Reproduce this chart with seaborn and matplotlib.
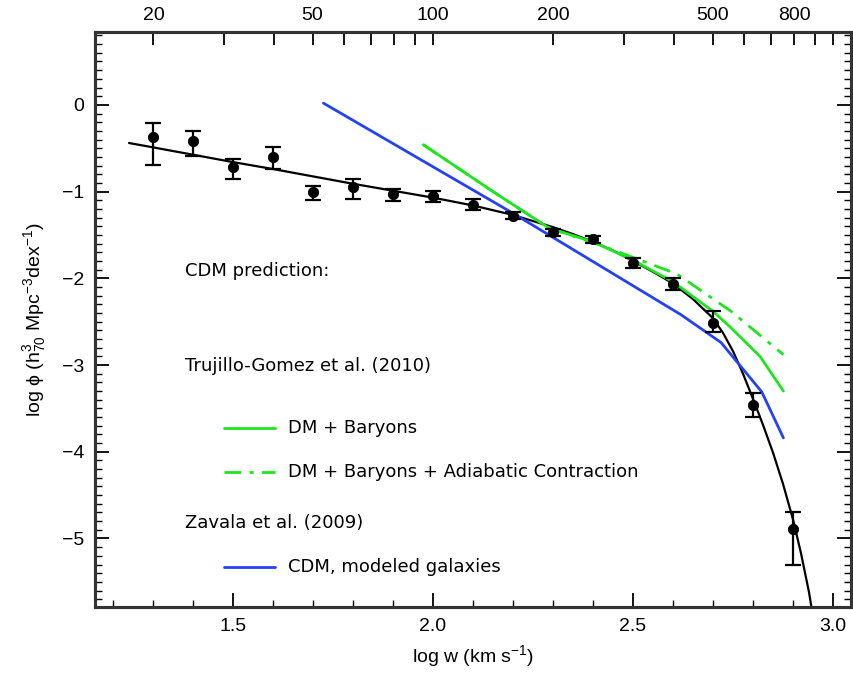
import numpy as np
import pandas as pd
import matplotlib
matplotlib.use("Agg")
import matplotlib.pyplot as plt
import seaborn as sns

# ---- data ----
obs_logw = [1.3, 1.4, 1.5, 1.6, 1.7, 1.8, 1.9, 2.0, 2.1, 2.2, 2.3, 2.4, 2.5, 2.6, 2.7, 2.8, 2.9]
obs_logphi = [-0.37, -0.42, -0.72, -0.60, -1.01, -0.95, -1.03, -1.05, -1.15, -1.28,
              -1.47, -1.55, -1.82, -2.07, -2.51, -3.46, -4.89]
obs_hi = [-0.21, -0.30, -0.62, -0.49, -0.93, -0.86, -0.97, -0.99, -1.09, -1.24,
          -1.43, -1.51, -1.77, -2.00, -2.38, -3.32, -4.69]
obs_lo = [-0.69, -0.59, -0.85, -0.74, -1.10, -1.09, -1.11, -1.12, -1.21, -1.32,
          -1.51, -1.59, -1.88, -2.14, -2.62, -3.60, -5.31]

fit_x = [1.24, 1.30, 1.40, 1.50, 1.60, 1.70, 1.80, 1.90, 2.00, 2.10, 2.20, 2.30, 2.35,
         2.40, 2.45, 2.50, 2.55, 2.60, 2.65, 2.70, 2.725, 2.75, 2.775, 2.80, 2.825, 2.85,
         2.875, 2.90, 2.92, 2.94, 2.95]
fit_y = [-0.44, -0.49, -0.575, -0.66, -0.74, -0.825, -0.91, -0.99, -1.07, -1.16, -1.27,
         -1.41, -1.49, -1.58, -1.68, -1.80, -1.925, -2.06, -2.24, -2.46, -2.63, -2.84, -3.10,
         -3.39, -3.69, -4.01, -4.37, -4.78, -5.17, -5.62, -5.90]

dmb_x = [1.976, 2.15, 2.29, 2.40, 2.50, 2.60, 2.70, 2.7425, 2.8175, 2.876]
dmb_y = [-0.46, -1.00, -1.42, -1.58, -1.79, -2.04, -2.38, -2.56, -2.90, -3.30]

dmbac_x = [1.976, 2.15, 2.29, 2.42, 2.61, 2.745, 2.876]
dmbac_y = [-0.46, -1.00, -1.42, -1.62, -1.95, -2.38, -2.88]

zav_x = [1.726, 2.20, 2.62, 2.72, 2.822, 2.876]
zav_y = [0.02, -1.25, -2.42, -2.74, -3.31, -3.84]

top_vals = [20, 30, 40, 50, 60, 70, 80, 90, 100, 200, 300, 400, 500, 600, 700, 800, 900, 1000]
top_labels = ["20", "", "", "50", "", "", "", "", "100", "200", "", "", "500", "", "", "800", "", ""]

GREEN = "#1ee61e"
BLUE = "#2342f5"

# ---- figure ----
sns.set_style("ticks")
plt.rcParams["font.family"] = ["Liberation Sans", "DejaVu Sans"]
plt.rcParams["mathtext.fontset"] = "custom"
plt.rcParams["mathtext.rm"] = "Liberation Sans"
plt.rcParams["mathtext.it"] = "Liberation Sans"
plt.rcParams["text.color"] = "black"
plt.rcParams["axes.labelcolor"] = "black"
plt.rcParams["xtick.color"] = "black"
plt.rcParams["ytick.color"] = "black"

fig = plt.figure(figsize=(8.54, 6.77), dpi=100)
ax = fig.add_axes([95 / 854, 70 / 677, 756 / 854, 575 / 677])

obs = pd.DataFrame({"x": obs_logw, "y": obs_logphi})
fit = pd.DataFrame({"x": fit_x, "y": fit_y})
dmb = pd.DataFrame({"x": dmb_x, "y": dmb_y})
dmbac = pd.DataFrame({"x": dmbac_x, "y": dmbac_y})
zav = pd.DataFrame({"x": zav_x, "y": zav_y})

DASHDOT = (0, (6, 3, 1.5, 3))
sns.lineplot(data=fit, x="x", y="y", sort=False, estimator=None, color="black", lw=1.6, ax=ax)
sns.lineplot(data=zav, x="x", y="y", sort=False, estimator=None, color=BLUE, lw=2.0, ax=ax)
sns.lineplot(data=dmbac, x="x", y="y", sort=False, estimator=None, color=GREEN, lw=2.0,
             ax=ax, linestyle=DASHDOT)
sns.lineplot(data=dmb, x="x", y="y", sort=False, estimator=None, color=GREEN, lw=2.0, ax=ax)

yerr = [np.array(obs_logphi) - np.array(obs_lo), np.array(obs_hi) - np.array(obs_logphi)]
ax.errorbar(obs_logw, obs_logphi, yerr=yerr, fmt="none", ecolor="black", elinewidth=1.6,
            capsize=6, capthick=1.6, zorder=5)
sns.scatterplot(data=obs, x="x", y="y", color="black", s=55, edgecolor="black", zorder=6, ax=ax)

# ---- legend-like annotations ----
fs = 13
tf = ["DejaVu Sans"]
ax.text(1.38, -1.915, "CDM prediction:", fontsize=fs, va="center", ha="left", family=tf)
ax.text(1.38, -3.01, "Trujillo-Gomez et al. (2010)", fontsize=fs, va="center", ha="left", family=tf)
ax.plot([1.4775, 1.605], [-3.73, -3.73], color=GREEN, lw=2.0)
ax.text(1.6375, -3.73, "DM + Baryons", fontsize=fs, va="center", ha="left", family=tf)
ax.plot([1.4775, 1.605], [-4.23, -4.23], color=GREEN, lw=2.0, linestyle=DASHDOT)
ax.text(1.6375, -4.23, "DM + Baryons + Adiabatic Contraction", fontsize=fs, va="center",
        ha="left", family=tf)
ax.text(1.38, -4.82, "Zavala et al. (2009)", fontsize=fs, va="center", ha="left", family=tf)
ax.plot([1.4775, 1.605], [-5.33, -5.33], color=BLUE, lw=2.0)
ax.text(1.6375, -5.33, "CDM, modeled galaxies", fontsize=fs, va="center", ha="left", family=tf)

# ---- axes ----
ax.set_xlim(1.155, 3.045)
ax.set_ylim(-5.79, 0.84)
ax.set_xticks([1.5, 2.0, 2.5, 3.0])
ax.set_xticklabels(["1.5", "2.0", "2.5", "3.0"])
ax.set_xticks(np.arange(1.2, 3.05, 0.1), minor=True)
ax.set_yticks([0, -1, -2, -3, -4, -5])
ax.set_yticklabels(["0", "\u22121", "\u22122", "\u22123", "\u22124", "\u22125"])
ax.set_yticks(np.arange(-5.7, 0.85, 0.1), minor=True)
ax.tick_params(axis="both", which="major", direction="in", length=10, width=1.3,
               labelsize=14, colors="black", pad=8)
ax.tick_params(axis="both", which="minor", direction="in", length=5, width=1.0)
ax.tick_params(axis="y", which="both", right=True)
ax.tick_params(axis="x", which="both", top=False)
ax.set_xlabel(r"log w (km s$^{-1}$)", fontsize=14, labelpad=6)
ax.set_ylabel(r"log $\phi$ (h$^{3}_{70}$ Mpc$^{-3}$dex$^{-1}$)", fontsize=14, labelpad=10)
for sp in ax.spines.values():
    sp.set_visible(True)
    sp.set_linewidth(2.2)
    sp.set_color("#333333")

ax2 = ax.twiny()
ax2.set_xlim(ax.get_xlim())
ax2.set_xticks(np.log10(top_vals))
ax2.set_xticklabels(top_labels)
ax2.tick_params(axis="x", which="major", direction="in", length=9, width=1.3,
                labelsize=14, pad=6, colors="black")
ax2.tick_params(axis="x", which="minor", top=False, bottom=False)
for sp in ax2.spines.values():
    sp.set_linewidth(2.2)
    sp.set_color("#333333")

fig.savefig("out.png", dpi=100)
